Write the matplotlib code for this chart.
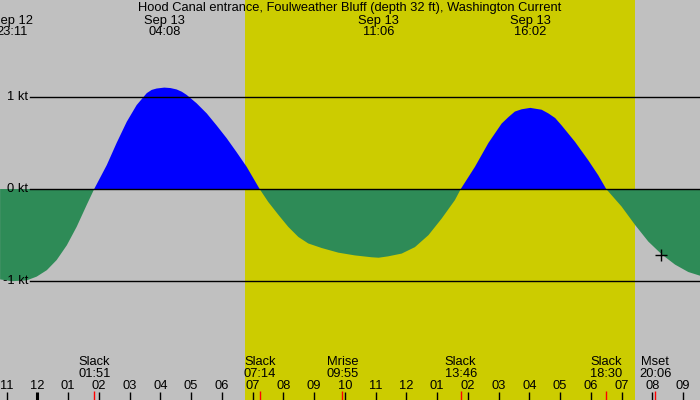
import matplotlib
matplotlib.use('Agg')
import matplotlib.pyplot as plt
import matplotlib.transforms as mtrans

plt.rcParams['font.family'] = ['Liberation Sans', 'DejaVu Sans']

# --- Data (hours after Sep 13 00:00, current in knots) ---
hours = [-1.21, -0.82, -0.34, -0.02, 0.31, 0.63, 0.96, 1.28, 1.61, 1.85,
         2.26, 2.58, 2.91, 3.23, 3.56, 3.72, 3.88, 4.13, 4.33, 4.53, 4.70, 4.86, 5.18,
         5.51, 5.83, 6.16, 6.48, 6.81, 7.23, 7.51, 7.84, 8.16, 8.49,
         8.81, 9.25, 9.79, 10.33, 10.87, 11.10, 11.41, 11.85, 12.28, 12.72,
         13.15, 13.58, 13.77, 14.23, 14.67, 15.10, 15.32, 15.53, 15.75, 16.03, 16.40,
         16.62, 16.84, 17.05,
         17.49, 17.92, 18.24, 18.50, 19.00, 19.44, 19.87, 20.31, 20.74, 21.17,
         21.55]
speed = [-0.98, -1.00, -0.99, -0.95, -0.88, -0.77, -0.61, -0.41, -0.17, 0.00,
         0.26, 0.50, 0.73, 0.91, 1.04, 1.075, 1.09, 1.10, 1.095, 1.08, 1.055, 1.02, 0.93,
         0.82, 0.69, 0.55, 0.40, 0.24, 0.00, -0.14, -0.28, -0.41, -0.52,
         -0.59, -0.64, -0.69, -0.72, -0.74, -0.745, -0.73, -0.70, -0.63, -0.50,
         -0.32, -0.12, 0.00, 0.24, 0.50, 0.71, 0.78, 0.84, 0.865, 0.88, 0.86,
         0.82, 0.77, 0.69,
         0.51, 0.31, 0.15, 0.00, -0.19, -0.39, -0.57, -0.71, -0.82, -0.90,
         -0.94]

title = 'Hood Canal entrance, Foulweather Bluff (depth 32 ft), Washington Current'
max_days = ['Sep 12', 'Sep 13', 'Sep 13', 'Sep 13']
max_times = ['23:11', '04:08', '11:06', '16:02']
event_names = ['Slack', 'Slack', 'Mrise', 'Slack', 'Slack', 'Mset']
event_times = ['01:51', '07:14', '09:55', '13:46', '18:30', '20:06']
sunrise, sunset = '06:45', '19:26'
now_hour, now_speed = 20.28, -0.72
level_values = [1, 0, -1]
level_labels = ['1 kt', '0 kt', '-1 kt']
tick_hours = list(range(-1, 22))
tick_labels = ['11', '12', '01', '02', '03', '04', '05', '06', '07', '08', '09',
               '10', '11', '12', '01', '02', '03', '04', '05', '06', '07', '08', '09']


def to_hours(hhmm, day='Sep 13'):
    hh, mm = hhmm.split(':')
    h = int(hh) + int(mm) / 60
    return h - 24 if day == 'Sep 12' else h


GRAY = '#C0C0C0'
YELLOW = '#CCCC00'
FLOOD = '#0000FF'
EBB = '#2E8B57'
FS = 9.3

fig = plt.figure(figsize=(7, 4), dpi=100, facecolor=GRAY)
ax = fig.add_axes([0, 0, 1, 1])
ax.set_facecolor(GRAY)
ax.set_xlim(-1.213, 21.55)
ax.set_ylim(-2.288, 2.05)
ax.axis('off')

ax.axvspan(to_hours(sunrise), to_hours(sunset), color=YELLOW, lw=0, zorder=1)

ax.fill_between(hours, speed, 0, where=[s >= 0 for s in speed], interpolate=True,
                color=FLOOD, lw=0, zorder=2)
ax.fill_between(hours, speed, 0, where=[s <= 0 for s in speed], interpolate=True,
                color=EBB, lw=0, zorder=2)

for v, lab in zip(level_values, level_labels):
    ax.axhline(v, xmin=30 / 700, xmax=1, color='black', lw=1.0, zorder=3)
    ax.text(0.04, v, lab, transform=mtrans.blended_transform_factory(ax.transAxes, ax.transData),
            ha='right', va='center', fontsize=FS, zorder=4)

ax.plot([now_hour], [now_speed], marker='+', ms=8, mew=1.0, color='black', zorder=5)

bt = mtrans.blended_transform_factory(ax.transData, ax.transAxes)

# top labels
ax.text(0.5, 0.981, title, transform=ax.transAxes, ha='center', va='center', fontsize=FS)
for d, t in zip(max_days, max_times):
    h = to_hours(t, d)
    ax.text(h, 0.947, d, transform=bt, ha='center', va='center', fontsize=FS)
    ax.text(h, 0.919, t, transform=bt, ha='center', va='center', fontsize=FS)

# bottom event labels
for name, t in zip(event_names, event_times):
    h = to_hours(t)
    ax.text(h, 0.095, name, transform=bt, ha='center', va='center', fontsize=FS)
    ax.text(h, 0.066, t, transform=bt, ha='center', va='center', fontsize=FS)
    ax.vlines(h, 0, 0.023, transform=bt, color='red', lw=1.0, zorder=4)

# hour ticks
for h, lab in zip(tick_hours, tick_labels):
    ax.text(h, 0.036, lab, transform=bt, ha='center', va='center', fontsize=FS)
    ax.vlines(h, 0, 0.02, transform=bt, color='black', lw=2.2 if h == 0 else 1.0, zorder=4)

fig.savefig('out.png', dpi=100, facecolor=GRAY)
